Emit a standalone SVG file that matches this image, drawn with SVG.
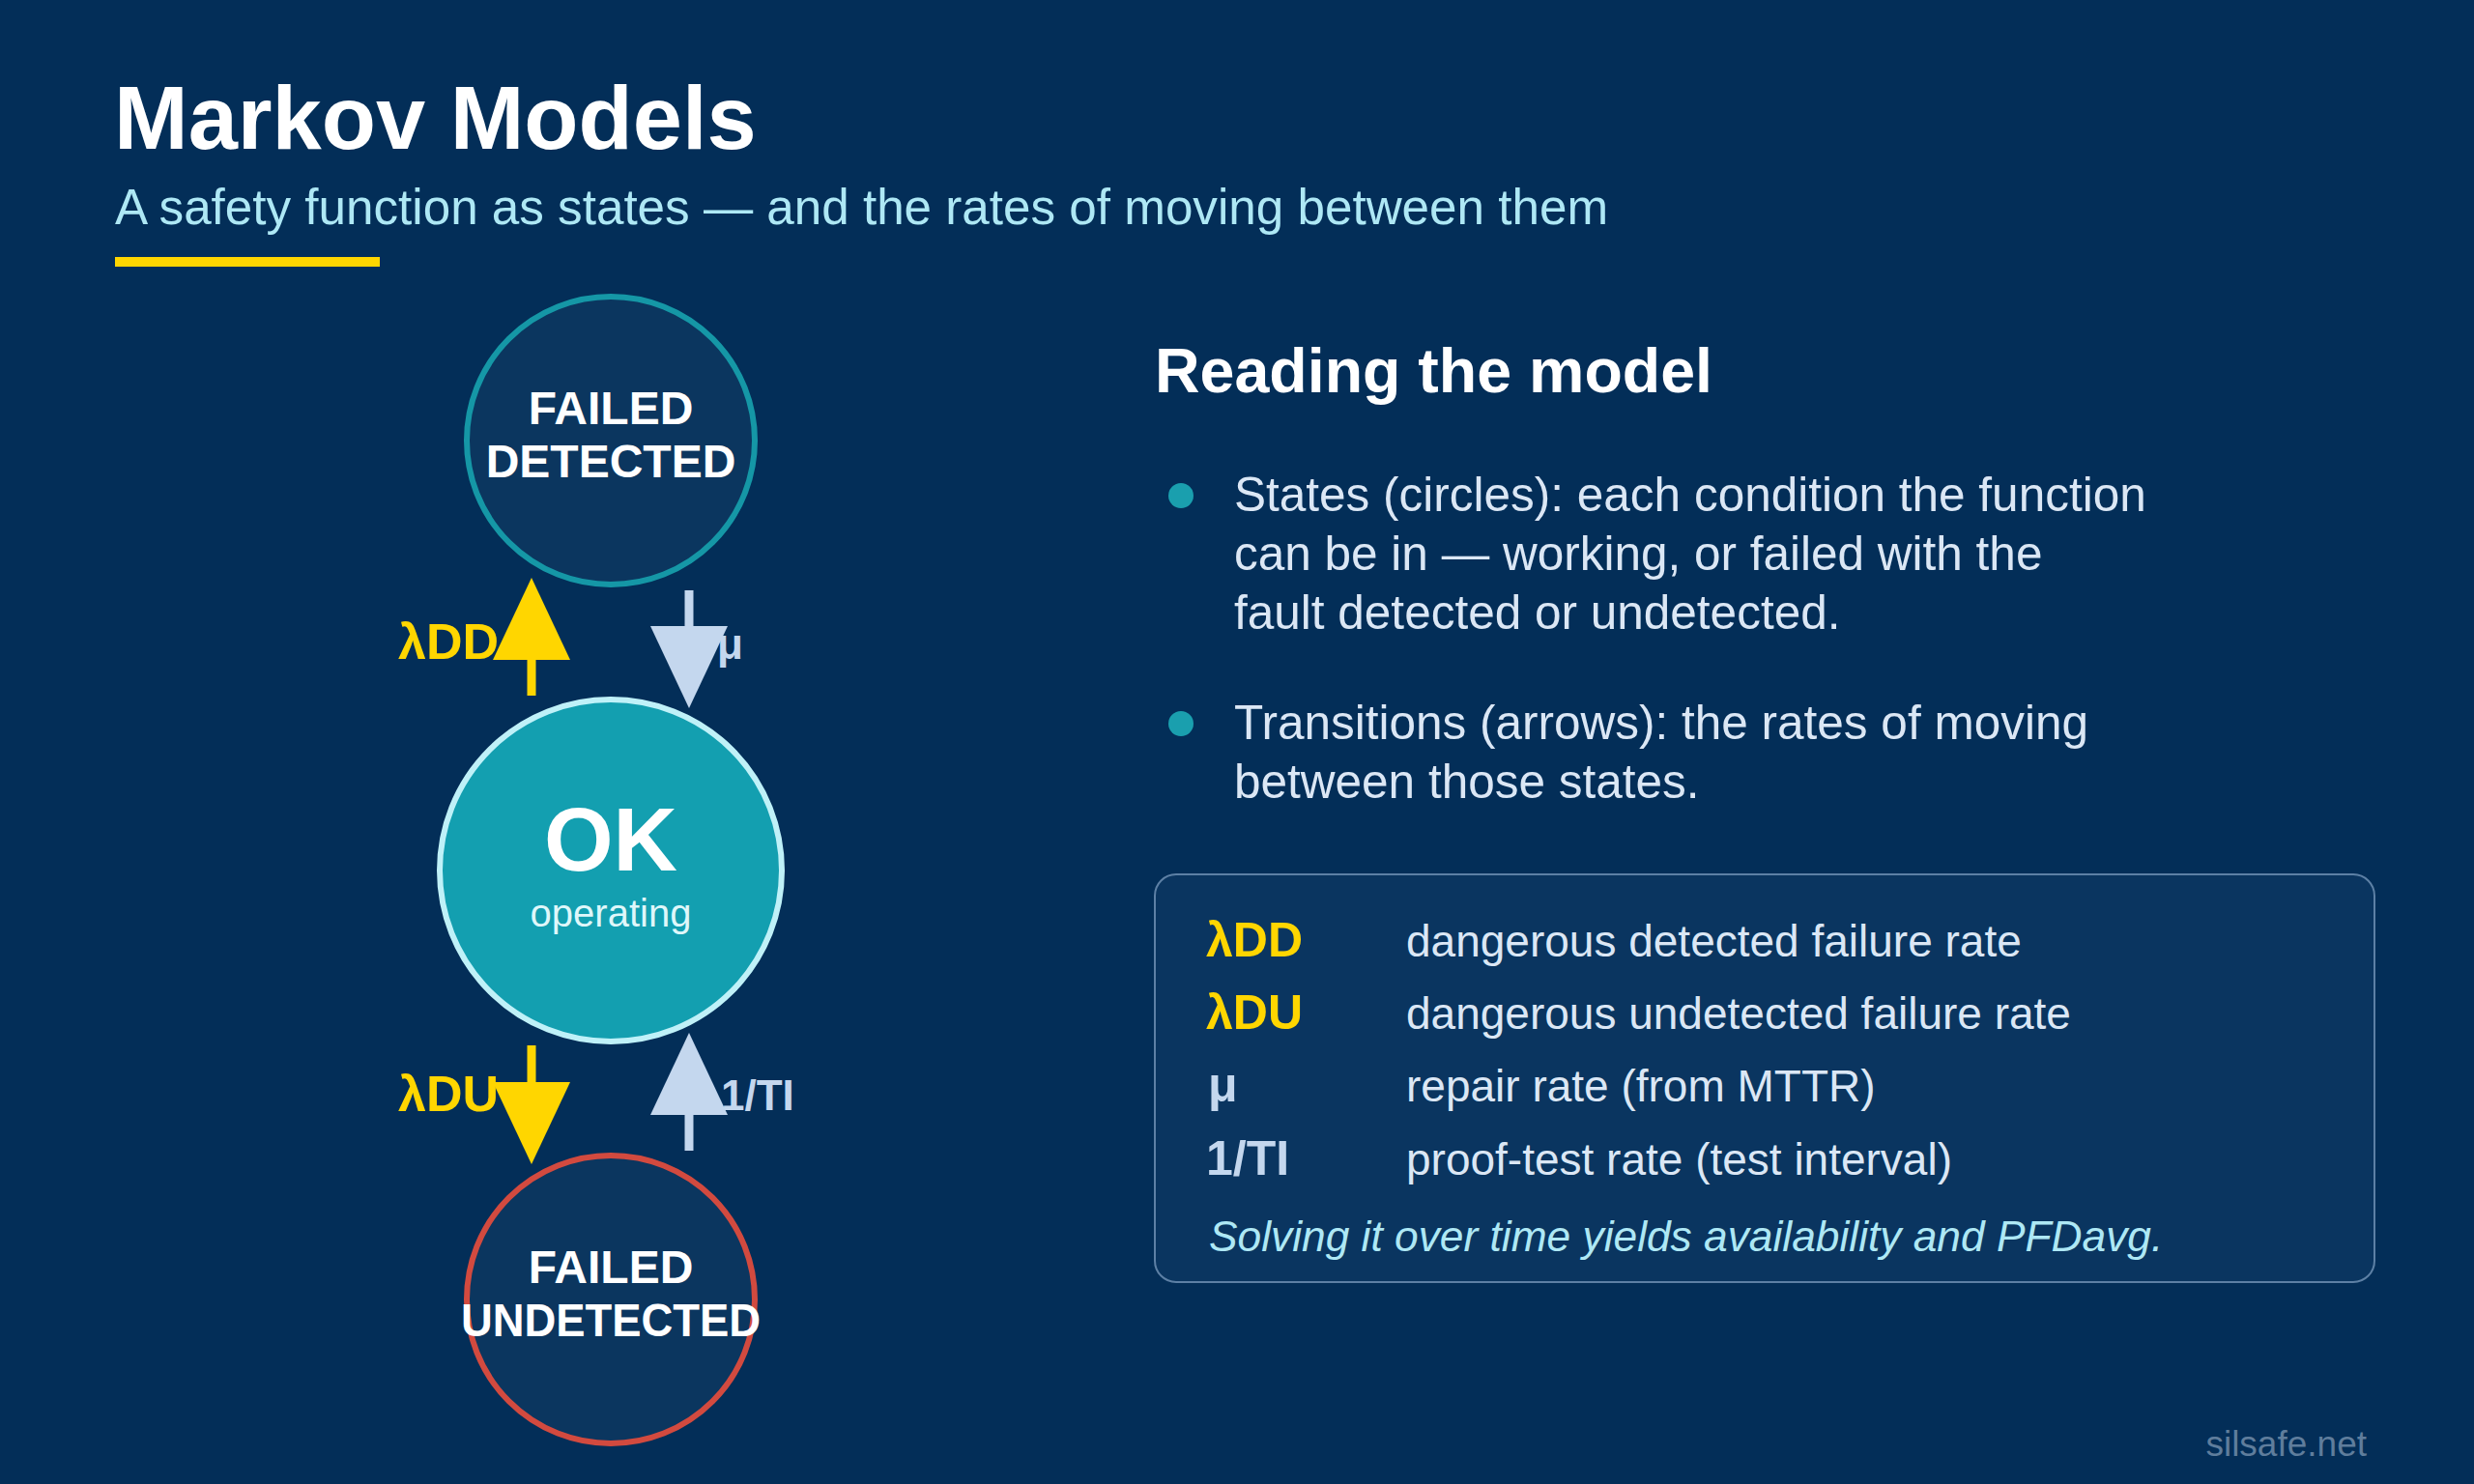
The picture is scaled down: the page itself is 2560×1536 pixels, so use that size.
<svg xmlns="http://www.w3.org/2000/svg" width="2560" height="1536" viewBox="0 0 2560 1536">
<defs>
<style>
text{font-family:"Liberation Sans",Arial,sans-serif}
.b{font-weight:700}
.node{fill:#0b365f;stroke-width:6}
.ntext{fill:#ffffff;font-weight:700;font-size:48px;text-anchor:middle}
.lblY{fill:#ffd600;font-weight:700;font-size:52px}
.lblL{fill:#c4d7ee;font-weight:700;font-size:44px}
.stemY{stroke:#ffd600;stroke-width:9;fill:none}
.stemL{stroke:#c4d7ee;stroke-width:9;fill:none}
.bul{fill:#dbe7f5;font-size:49.5px}
.dot{fill:#1a9fae}
.sym{font-weight:700;font-size:50px}
.desc{fill:#dbe7f5;font-size:46px}
</style>
<marker id="headY" viewBox="0 0 85 80" refX="0" refY="40" markerWidth="85" markerHeight="80" markerUnits="userSpaceOnUse" orient="auto">
<path d="M0,0 L85,40 L0,80 Z" fill="#ffd600"/>
</marker>
<marker id="headL" viewBox="0 0 85 80" refX="0" refY="40" markerWidth="85" markerHeight="80" markerUnits="userSpaceOnUse" orient="auto">
<path d="M0,0 L85,40 L0,80 Z" fill="#c4d7ee"/>
</marker>
</defs>
<rect x="0" y="0" width="2560" height="1536" fill="#032e58"/>

<g id="header">
<text x="118" y="154" class="b" font-size="92" fill="#ffffff">Markov Models</text>
<text x="119" y="232" font-size="51.2" fill="#aee8f5">A safety function as states — and the rates of moving between them</text>
<rect x="119" y="266" width="274" height="10" fill="#ffd600"/>
</g>

<g id="node-failed-detected">
<circle cx="632" cy="456" r="149" class="node" stroke="#1597a6"/>
<text x="632" y="439" class="ntext">FAILED</text>
<text x="632" y="494" class="ntext">DETECTED</text>
</g>

<g id="node-ok">
<circle cx="632" cy="901" r="177" fill="#139fb0" stroke="#bff1f8" stroke-width="6"/>
<text x="632" y="901" class="b" font-size="92" fill="#ffffff" text-anchor="middle">OK</text>
<text x="632" y="959" font-size="40" fill="#dff7fa" text-anchor="middle">operating</text>
</g>

<g id="node-failed-undetected">
<circle cx="632" cy="1345" r="149" class="node" stroke="#d24a3f"/>
<text x="632" y="1328" class="ntext">FAILED</text>
<text x="632" y="1383" class="ntext" textLength="310" lengthAdjust="spacingAndGlyphs">UNDETECTED</text>
</g>

<g id="connectors">
<text x="412" y="682" class="lblY">λDD</text>
<text x="742" y="682" class="lblL">μ</text>
<text x="412" y="1150" class="lblY">λDU</text>
<text x="746" y="1149" class="lblL">1/TI</text>
<line x1="550" y1="720" x2="550" y2="683" class="stemY" marker-end="url(#headY)"/>
<line x1="713" y1="611" x2="713" y2="648" class="stemL" marker-end="url(#headL)"/>
<line x1="550" y1="1082" x2="550" y2="1120" class="stemY" marker-end="url(#headY)"/>
<line x1="713" y1="1191" x2="713" y2="1154" class="stemL" marker-end="url(#headL)"/>
</g>

<g id="reading">
<text x="1195" y="406" class="b" font-size="64.5" fill="#ffffff">Reading the model</text>
<circle cx="1222" cy="513" r="13" class="dot"/>
<text class="bul"><tspan x="1277" y="529">States (circles): each condition the function</tspan><tspan x="1277" y="590">can be in — working, or failed with the</tspan><tspan x="1277" y="651">fault detected or undetected.</tspan></text>
<circle cx="1222" cy="749" r="13" class="dot"/>
<text class="bul"><tspan x="1277" y="765">Transitions (arrows): the rates of moving</tspan><tspan x="1277" y="826">between those states.</tspan></text>
</g>

<g id="legend">
<rect x="1195" y="905" width="1262" height="422" rx="22" ry="22" fill="#0a3560" stroke="#5d80a5" stroke-width="2"/>
<text x="1248" y="990" class="sym" fill="#ffd600">λDD</text>
<text x="1455" y="990" class="desc">dangerous detected failure rate</text>
<text x="1248" y="1065" class="sym" fill="#ffd600">λDU</text>
<text x="1455" y="1065" class="desc">dangerous undetected failure rate</text>
<text x="1250" y="1140" class="sym" fill="#c4d7ee">μ</text>
<text x="1455" y="1140" class="desc">repair rate (from MTTR)</text>
<text x="1248" y="1216" class="sym" fill="#c4d7ee">1/TI</text>
<text x="1455" y="1216" class="desc">proof-test rate (test interval)</text>
<text x="1251" y="1295" font-size="44.3" font-style="italic" fill="#aee8f5">Solving it over time yields availability and PFDavg.</text>
</g>

<text id="footer" x="2449" y="1507" font-size="37" fill="#5f7d9c" text-anchor="end">silsafe.net</text>
</svg>
